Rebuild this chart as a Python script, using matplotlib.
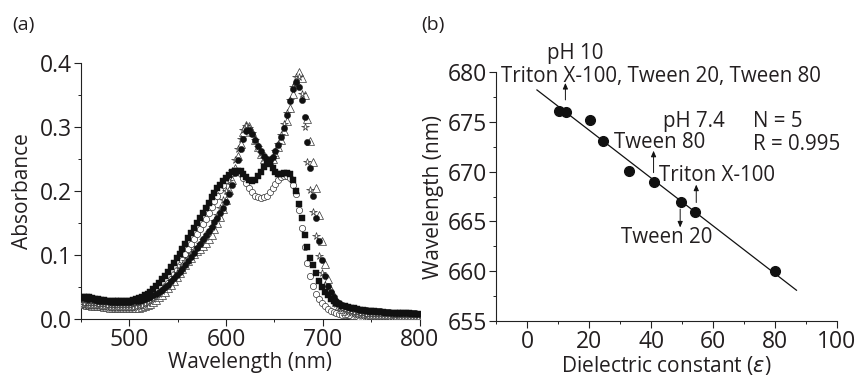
import numpy as np
import matplotlib
matplotlib.use("Agg")
import matplotlib.pyplot as plt
from matplotlib.ticker import MultipleLocator, FormatStrFormatter

plt.rcParams['font.family'] = ['Open Sans', 'DejaVu Sans']
TXT = '#231f20'

# ---------------- Panel (a) data: wavelength grid (nm) and absorbance series ----------------
wavelength = np.arange(450, 799, 3)

abs_filled_square = [
    0.035, 0.035, 0.034, 0.034, 0.033, 0.032, 0.031, 0.030, 0.030, 0.029, 0.029, 0.028, 0.028, 0.028, 0.028, 0.028, 0.029,
    0.029, 0.030, 0.031, 0.033, 0.035, 0.037, 0.040, 0.043, 0.047, 0.051, 0.056, 0.062, 0.068, 0.074, 0.081, 0.088, 0.095,
    0.102, 0.110, 0.118, 0.126, 0.134, 0.142, 0.150, 0.158, 0.166, 0.174, 0.182, 0.190, 0.197, 0.204, 0.210, 0.216, 0.221,
    0.225, 0.229, 0.231, 0.232, 0.231, 0.227, 0.222, 0.218, 0.216, 0.218, 0.223, 0.230, 0.238, 0.245, 0.243, 0.236, 0.229,
    0.226, 0.226, 0.228, 0.228, 0.226, 0.218, 0.200, 0.180, 0.158, 0.132, 0.112, 0.096, 0.084, 0.072, 0.060, 0.050, 0.043,
    0.037, 0.032, 0.028, 0.025, 0.023, 0.021, 0.020, 0.019, 0.018, 0.017, 0.016, 0.015, 0.014, 0.013, 0.013, 0.012, 0.012,
    0.011, 0.011, 0.011, 0.010, 0.010, 0.010, 0.010, 0.009, 0.009, 0.009, 0.009, 0.009, 0.008, 0.008, 0.008,
]

abs_filled_circle = [
    0.033, 0.033, 0.032, 0.032, 0.031, 0.030, 0.029, 0.029, 0.028, 0.028, 0.027, 0.027, 0.027, 0.027, 0.027, 0.027, 0.027,
    0.027, 0.028, 0.028, 0.029, 0.030, 0.032, 0.033, 0.035, 0.037, 0.040, 0.043, 0.046, 0.050, 0.054, 0.059, 0.064, 0.069,
    0.074, 0.079, 0.085, 0.091, 0.097, 0.104, 0.111, 0.118, 0.125, 0.132, 0.138, 0.144, 0.151, 0.158, 0.165, 0.173, 0.183,
    0.195, 0.210, 0.228, 0.248, 0.266, 0.282, 0.293, 0.295, 0.289, 0.280, 0.270, 0.262, 0.255, 0.250, 0.249, 0.253, 0.262,
    0.272, 0.284, 0.298, 0.318, 0.340, 0.360, 0.370, 0.362, 0.342, 0.315, 0.276, 0.236, 0.192, 0.158, 0.122, 0.092, 0.068,
    0.052, 0.042, 0.034, 0.029, 0.025, 0.022, 0.020, 0.019, 0.018, 0.017, 0.016, 0.015, 0.014, 0.014, 0.013, 0.013, 0.012,
    0.012, 0.012, 0.011, 0.011, 0.011, 0.010, 0.010, 0.010, 0.010, 0.009, 0.009, 0.009, 0.009, 0.009, 0.008,
]

abs_open_circle = [
    0.022, 0.022, 0.021, 0.021, 0.021, 0.020, 0.020, 0.020, 0.019, 0.019, 0.019, 0.018, 0.018, 0.018, 0.018, 0.018, 0.018,
    0.018, 0.018, 0.018, 0.019, 0.020, 0.022, 0.024, 0.027, 0.031, 0.035, 0.040, 0.045, 0.051, 0.057, 0.063, 0.070, 0.077,
    0.085, 0.093, 0.101, 0.109, 0.117, 0.125, 0.133, 0.141, 0.149, 0.157, 0.166, 0.175, 0.184, 0.193, 0.202, 0.210, 0.217,
    0.223, 0.228, 0.230, 0.230, 0.227, 0.220, 0.212, 0.204, 0.198, 0.193, 0.190, 0.189, 0.190, 0.193, 0.198, 0.204, 0.211,
    0.217, 0.222, 0.224, 0.224, 0.220, 0.210, 0.196, 0.170, 0.143, 0.113, 0.088, 0.068, 0.052, 0.040, 0.032, 0.025, 0.020,
    0.016, 0.013, 0.011, 0.009, 0.008, 0.007, 0.006, 0.006, 0.005, 0.005, 0.005, 0.004, 0.004, 0.004, 0.004, 0.003, 0.003,
    0.003, 0.003, 0.003, 0.003, 0.002, 0.002, 0.002, 0.002, 0.002, 0.002, 0.002, 0.002, 0.002, 0.002, 0.002,
]

abs_open_triangle = [
    0.023, 0.023, 0.022, 0.022, 0.021, 0.021, 0.020, 0.020, 0.019, 0.019, 0.018, 0.018, 0.018, 0.017, 0.017, 0.017, 0.017,
    0.017, 0.017, 0.017, 0.018, 0.019, 0.020, 0.022, 0.024, 0.027, 0.030, 0.034, 0.038, 0.043, 0.048, 0.054, 0.060, 0.066,
    0.072, 0.078, 0.084, 0.090, 0.096, 0.101, 0.106, 0.110, 0.114, 0.119, 0.125, 0.132, 0.140, 0.150, 0.160, 0.172, 0.186,
    0.201, 0.218, 0.236, 0.255, 0.274, 0.292, 0.303, 0.301, 0.292, 0.280, 0.268, 0.258, 0.250, 0.246, 0.246, 0.250, 0.258,
    0.268, 0.280, 0.294, 0.310, 0.330, 0.352, 0.372, 0.386, 0.376, 0.350, 0.312, 0.278, 0.245, 0.205, 0.162, 0.122, 0.086,
    0.062, 0.046, 0.035, 0.027, 0.021, 0.016, 0.012, 0.010, 0.008, 0.007, 0.006, 0.005, 0.005, 0.004, 0.004, 0.004, 0.003,
    0.003, 0.003, 0.003, 0.003, 0.003, 0.002, 0.002, 0.002, 0.002, 0.002, 0.002, 0.002, 0.002, 0.002, 0.002,
]

abs_open_star = [
    0.022, 0.022, 0.021, 0.021, 0.021, 0.020, 0.020, 0.019, 0.019, 0.019, 0.018, 0.018, 0.018, 0.018, 0.018, 0.018, 0.018,
    0.018, 0.018, 0.019, 0.020, 0.021, 0.023, 0.025, 0.028, 0.031, 0.035, 0.039, 0.044, 0.049, 0.054, 0.060, 0.066, 0.072,
    0.078, 0.084, 0.090, 0.096, 0.102, 0.108, 0.113, 0.118, 0.123, 0.129, 0.136, 0.144, 0.153, 0.163, 0.174, 0.186, 0.200,
    0.215, 0.231, 0.248, 0.265, 0.282, 0.296, 0.302, 0.299, 0.290, 0.279, 0.268, 0.259, 0.252, 0.248, 0.248, 0.253, 0.262,
    0.274, 0.288, 0.304, 0.322, 0.342, 0.362, 0.378, 0.378, 0.352, 0.300, 0.245, 0.202, 0.168, 0.130, 0.098, 0.072, 0.054,
    0.042, 0.034, 0.028, 0.023, 0.019, 0.016, 0.013, 0.011, 0.009, 0.008, 0.007, 0.006, 0.005, 0.005, 0.004, 0.004, 0.004,
    0.003, 0.003, 0.003, 0.003, 0.003, 0.003, 0.002, 0.002, 0.002, 0.002, 0.002, 0.002, 0.002, 0.002, 0.002,
]

# ---------------- Panel (b) data ----------------
dielectric = [10.1, 12.5, 20.3, 24.6, 32.9, 40.8, 49.7, 54.2, 80.2]
peak_wl = [676.1, 676.0, 675.2, 673.1, 670.1, 669.0, 667.0, 666.0, 660.0]
fit_eps = [3.1, 87.0]
fit_wl = [678.2, 658.1]

fig = plt.figure(figsize=(8.55, 3.77), dpi=100)

TICK_FS = 16.5
LABEL_FS = 15.0
ANN_FS = 14.8

# ---------------- Panel (a) ----------------
ax1 = fig.add_axes([0.0944, 0.1535, 0.3966, 0.6795])
ms = 4.5
ax1.plot(wavelength, abs_open_circle, ls='none', marker='o', ms=ms, mfc='white', mec='#333333', mew=0.5, zorder=3)
ax1.plot(wavelength, abs_open_triangle, ls='none', marker='^', ms=ms + 0.6, mfc='white', mec='#333333', mew=0.5, zorder=3)
ax1.plot(wavelength, abs_open_star, ls='none', marker='*', ms=ms + 0.8, mfc='white', mec='#333333', mew=0.5, zorder=3)
ax1.plot(wavelength, abs_filled_square, ls='none', marker='s', ms=ms - 0.5, mfc='#111111', mec='#111111', mew=0.3, zorder=4)
ax1.plot(wavelength, abs_filled_circle, ls='none', marker='o', ms=ms, mfc='#111111', mec='#111111', mew=0.3, zorder=4)

ax1.set_xlim(450, 800)
ax1.set_ylim(0.0, 0.4)
ax1.set_xticks([500, 600, 700, 800])
ax1.xaxis.set_minor_locator(MultipleLocator(50))
ax1.yaxis.set_major_locator(MultipleLocator(0.1))
ax1.yaxis.set_minor_locator(MultipleLocator(0.05))
ax1.yaxis.set_major_formatter(FormatStrFormatter('%.1f'))
ax1.set_xlabel('Wavelength (nm)', fontsize=LABEL_FS, color=TXT, labelpad=0)
ax1.set_ylabel('Absorbance', fontsize=LABEL_FS, color=TXT, labelpad=5)

# ---------------- Panel (b) ----------------
ax2 = fig.add_axes([0.5806, 0.1482, 0.3980, 0.6608])
ax2.plot(fit_eps, fit_wl, color='#111111', lw=0.9, zorder=2)
ax2.plot(dielectric, peak_wl, ls='none', marker='o', ms=7, mfc='#111111', mec='#111111', zorder=3)
ax2.set_xlim(-10, 100)
ax2.set_ylim(655, 680)
ax2.xaxis.set_major_locator(MultipleLocator(20))
ax2.xaxis.set_minor_locator(MultipleLocator(10))
ax2.yaxis.set_major_locator(MultipleLocator(5))
ax2.yaxis.set_minor_locator(MultipleLocator(2.5))
ax2.set_xlabel(r'Dielectric constant ($\varepsilon$)', fontsize=LABEL_FS, color=TXT, labelpad=0)
ax2.set_ylabel('Wavelength (nm)', fontsize=LABEL_FS, color=TXT, labelpad=3)

ax2.text(15.5, 681.9, 'pH 10', ha='center', va='center', fontsize=ANN_FS, color=TXT, clip_on=False)
ax2.text(43.3, 679.5, 'Triton X-100, Tween 20, Tween 80', ha='center', va='center', fontsize=ANN_FS,
         color=TXT, clip_on=False, zorder=5)
ax2.text(53.7, 675.05, 'pH 7.4', ha='center', va='center', fontsize=ANN_FS, color=TXT)
ax2.text(73.1, 675.05, 'N = 5', ha='left', va='center', fontsize=ANN_FS, color=TXT)
ax2.text(73.1, 672.7, 'R = 0.995', ha='left', va='center', fontsize=ANN_FS, color=TXT)
ax2.text(27.9, 672.9, 'Tween 80', ha='left', va='center', fontsize=ANN_FS, color=TXT)
ax2.text(42.4, 669.6, 'Triton X-100', ha='left', va='center', fontsize=ANN_FS, color=TXT)
ax2.text(45.1, 663.4, 'Tween 20', ha='center', va='center', fontsize=ANN_FS, color=TXT)

arrow_kw = dict(arrowstyle='-|>,head_length=0.35,head_width=0.15', color='#111111', lw=0.7,
                shrinkA=0, shrinkB=0)
ax2.annotate('', xy=(12.3, 678.9), xytext=(12.3, 677.2), arrowprops=arrow_kw)
ax2.annotate('', xy=(40.8, 672.1), xytext=(40.8, 669.9), arrowprops=arrow_kw)
ax2.annotate('', xy=(54.6, 668.7), xytext=(54.6, 666.9), arrowprops=arrow_kw)
ax2.annotate('', xy=(49.4, 664.4), xytext=(49.4, 666.25), arrowprops=arrow_kw)

for ax in (ax1, ax2):
    for s in ('top', 'right'):
        ax.spines[s].set_visible(False)
    for s in ('left', 'bottom'):
        ax.spines[s].set_linewidth(0.8)
        ax.spines[s].set_color('#222222')
    ax.tick_params(which='major', direction='out', length=5, width=0.8, labelsize=TICK_FS,
                   colors='#222222', labelcolor=TXT, pad=1.5)
    ax.tick_params(which='minor', direction='out', length=2.5, width=0.7, colors='#222222')

fig.text(23 / 855, 1 - 25 / 377, '(a)', ha='center', va='center', fontsize=14, color=TXT)
fig.text(433 / 855, 1 - 25 / 377, '(b)', ha='center', va='center', fontsize=14, color=TXT)

fig.savefig('out.png', dpi=100)
